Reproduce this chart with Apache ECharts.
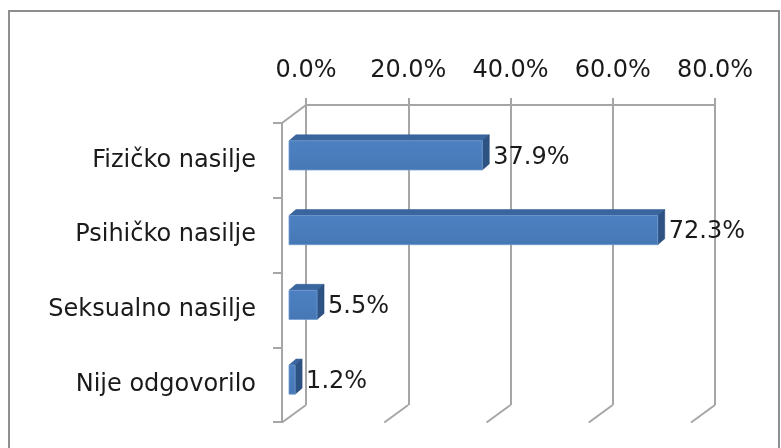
<!DOCTYPE html>
<html>
<head>
<meta charset="utf-8">
<script src="https://cdn.jsdelivr.net/npm/echarts@6/dist/echarts.min.js"></script>
<style>
html,body{margin:0;padding:0;background:#fff;}
#c{width:781px;height:448px;}
</style>
</head>
<body>
<div id="c"></div>
<script>
var categories = ['Fizičko nasilje', 'Psihičko nasilje', 'Seksualno nasilje', 'Nije odgovorilo'];
var values = [37.9, 72.3, 5.5, 1.2];
var tickValues = [0, 20, 40, 60, 80];

var FONT = 'DejaVu Sans';
var GRID_COLOR = '#a6a6a6';
var DEPTH_X = -24, DEPTH_Y = 17.5;
var BAR_OFF_X = 7, BAR_OFF_Y = -5;
var BAR_D_X = 7, BAR_D_Y = -6;

var chart = echarts.init(document.getElementById('c'), null, {renderer: 'canvas'});

var option = {
  animation: false,
  backgroundColor: '#ffffff',
  graphic: [{
    type: 'rect', z: -10,
    shape: {x: 9, y: 11, width: 770, height: 460},
    style: {fill: 'none', stroke: '#8f8f8f', lineWidth: 2}
  }],
  grid: [
    {left: 306, top: 105, width: 409, height: 300},
    {left: 282, top: 123, width: 408, height: 299}
  ],
  xAxis: [
    {
      gridIndex: 0, type: 'value', position: 'top', min: 0, max: 80, interval: 20,
      axisLine: {show: true, onZero: false, lineStyle: {color: GRID_COLOR, width: 2}},
      axisTick: {show: true, length: 7, lineStyle: {color: GRID_COLOR, width: 2}},
      splitLine: {show: true, lineStyle: {color: GRID_COLOR, width: 2}},
      axisLabel: {
        margin: 22, fontFamily: FONT, fontSize: 24, color: '#1a1a1a',
        formatter: function (v) { return v.toFixed(1) + '%'; }
      }
    },
    {
      gridIndex: 1, type: 'value', min: 0, max: 80, interval: 20, show: false
    }
  ],
  yAxis: [
    {gridIndex: 0, type: 'value', min: 0, max: 1, show: false},
    {
      gridIndex: 1, type: 'category', data: categories, inverse: true,
      axisLine: {show: true, lineStyle: {color: GRID_COLOR, width: 2}},
      axisTick: {show: true, length: 9, lineStyle: {color: GRID_COLOR, width: 2}},
      splitLine: {show: false},
      axisLabel: {margin: 26, fontFamily: FONT, fontSize: 24, color: '#1a1a1a'}
    }
  ],
  series: [
    {
      type: 'custom', xAxisIndex: 0, yAxisIndex: 0, z: 1, silent: true,
      data: tickValues.map(function (v) { return [v]; }),
      renderItem: function (params, api) {
        var v = api.value(0);
        var b = api.coord([v, 0]);
        var children = [{
          type: 'line',
          shape: {x1: b[0], y1: b[1], x2: b[0] + DEPTH_X, y2: b[1] + DEPTH_Y},
          style: {stroke: GRID_COLOR, lineWidth: 2}
        }];
        if (params.dataIndex === 0) {
          var t = api.coord([v, 1]);
          children.push({
            type: 'line',
            shape: {x1: t[0], y1: t[1], x2: t[0] + DEPTH_X, y2: t[1] + DEPTH_Y + 0.5},
            style: {stroke: GRID_COLOR, lineWidth: 2}
          });
        }
        return {type: 'group', children: children};
      }
    },
    {
      type: 'custom', xAxisIndex: 1, yAxisIndex: 1, z: 5, silent: true,
      data: values.map(function (v, i) { return [v, i]; }),
      renderItem: function (params, api) {
        var v = api.value(0), i = api.value(1);
        var p0 = api.coord([0, i]);
        var p1 = api.coord([v, i]);
        var band = api.size([0, 1])[1];
        var h = band * 0.39;
        var x0 = p0[0] + BAR_OFF_X, x1 = p1[0] + BAR_OFF_X;
        var yc = p0[1] + BAR_OFF_Y;
        var yt = yc - h / 2, yb = yc + h / 2;
        return {
          type: 'group',
          children: [
            {
              type: 'polygon',
              shape: {points: [[x0, yt], [x1, yt], [x1 + BAR_D_X, yt + BAR_D_Y], [x0 + BAR_D_X, yt + BAR_D_Y]]},
              style: {fill: '#3a669f', stroke: '#2f5788', lineWidth: 0.5}
            },
            {
              type: 'polygon',
              shape: {points: [[x1, yt], [x1 + BAR_D_X, yt + BAR_D_Y], [x1 + BAR_D_X, yb + BAR_D_Y], [x1, yb]]},
              style: {fill: '#2d5284', stroke: '#284a78', lineWidth: 0.5}
            },
            {
              type: 'rect',
              shape: {x: x0, y: yt, width: x1 - x0, height: h},
              style: {
                fill: new echarts.graphic.LinearGradient(0, 0, 0, 1, [
                  {offset: 0, color: '#4d80c0'},
                  {offset: 0.5, color: '#4a7dbc'},
                  {offset: 1, color: '#4677b5'}
                ]),
                stroke: '#6f9ad0', lineWidth: 0.8
              }
            },
            {
              type: 'text',
              style: {
                x: x1 + BAR_D_X + 4, y: yc + 2,
                text: v.toFixed(1) + '%',
                fontFamily: FONT, fontSize: 24, fill: '#1a1a1a',
                align: 'left', verticalAlign: 'middle'
              }
            }
          ]
        };
      }
    }
  ]
};
chart.setOption(option);
</script>
</body>
</html>
